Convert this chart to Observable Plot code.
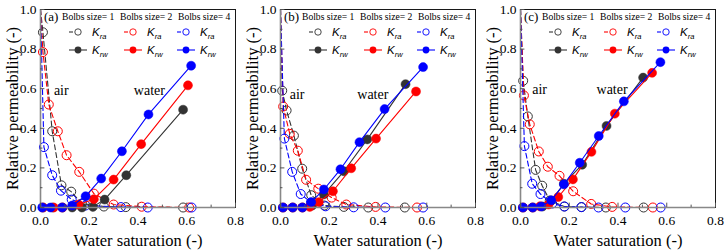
<!DOCTYPE html>
<html>
<head>
<meta charset="utf-8">
<script src="https://cdn.jsdelivr.net/npm/d3@7"></script>
<script src="https://cdn.jsdelivr.net/npm/@observablehq/plot@0.6"></script>
<style>
  html, body { margin: 0; padding: 0; background: #fff; }
  #chart { position: relative; width: 725px; height: 252px; overflow: hidden; }
</style>
</head>
<body>
<div id="chart"></div>
<script>
// ---------- data ----------
const panels = ["(a)", "(b)", "(c)"];
const sizes = ["1", "2", "4"];
const seriesColors = ["#333333", "#ff0000", "#0000ff"];
const xMajor = [0, 0.2, 0.4, 0.6, 0.8];
const xMinor = [0.1, 0.3, 0.5, 0.7];
const yMajor = [0, 0.2, 0.4, 0.6, 0.8, 1.0];
const yMinor = [0.1, 0.3, 0.5, 0.7, 0.9];
const airLabelPos = [[0.055, 0.569], [0.038, 0.549], [0.048, 0.574]];
const waterLabelPos = [[0.383, 0.569], [0.315, 0.549], [0.312, 0.574]];

// panel (a)
const a_Kra_1 = [[0,1],[0.01,0.885],[0.048,0.385],[0.086,0.112],[0.126,0.08],[0.17,0.02],[0.26,0.005],[0.35,0.002],[0.585,0]];
const a_Kra_2 = [[0,1],[0.01,0.785],[0.034,0.52],[0.071,0.385],[0.107,0.264],[0.159,0.18],[0.219,0.07],[0.30,0.015],[0.415,0.004],[0.61,0]];
const a_Kra_4 = [[0,1],[0.014,0.305],[0.048,0.163],[0.084,0.085],[0.128,0.04],[0.185,0.01],[0.33,0.002],[0.44,0],[0.62,0]];
const a_Krw_1 = [[0.01,0],[0.05,0],[0.09,0],[0.13,0],[0.17,0],[0.215,0.003],[0.263,0.04],[0.352,0.163],[0.585,0.494]];
const a_Krw_2 = [[0.01,0],[0.054,0],[0.09,0],[0.156,0.015],[0.219,0.042],[0.30,0.141],[0.413,0.32],[0.605,0.617]];
const a_Krw_4 = [[0.007,0],[0.041,0],[0.089,0],[0.13,0.01],[0.185,0.057],[0.249,0.146],[0.334,0.284],[0.443,0.47],[0.618,0.716]];

// panel (b)
const b_Kra_1 = [[0,1],[0.007,0.59],[0.025,0.49],[0.055,0.363],[0.089,0.196],[0.126,0.062],[0.18,0.01],[0.26,0.003],[0.36,0],[0.51,0]];
const b_Kra_2 = [[0,1],[0.011,0.51],[0.038,0.372],[0.071,0.287],[0.105,0.14],[0.155,0.095],[0.21,0.05],[0.27,0.015],[0.39,0.003],[0.56,0]];
const b_Kra_4 = [[0,1],[0.016,0.348],[0.048,0.18],[0.083,0.068],[0.125,0.025],[0.185,0.006],[0.3,0.001],[0.43,0],[0.585,0]];
const b_Krw_1 = [[0.01,0],[0.05,0],[0.09,0],[0.13,0.01],[0.178,0.066],[0.26,0.183],[0.356,0.344],[0.513,0.623]];
const b_Krw_2 = [[0.01,0],[0.05,0],[0.09,0],[0.12,0.003],[0.157,0.027],[0.215,0.082],[0.29,0.198],[0.392,0.348],[0.556,0.586]];
const b_Krw_4 = [[0.01,0],[0.05,0],[0.09,0],[0.126,0.027],[0.178,0.091],[0.246,0.193],[0.324,0.33],[0.427,0.497],[0.585,0.709]];

// panel (c)
const c_Kra_1 = [[0,1],[0.011,0.64],[0.03,0.46],[0.062,0.19],[0.089,0.11],[0.12,0.035],[0.18,0.005],[0.25,0.002],[0.35,0],[0.505,0]];
const c_Kra_2 = [[0,1],[0.014,0.566],[0.038,0.42],[0.075,0.283],[0.112,0.206],[0.16,0.16],[0.216,0.082],[0.29,0.018],[0.376,0.003],[0.543,0]];
const c_Kra_4 = [[0,1],[0.016,0.31],[0.048,0.12],[0.082,0.068],[0.13,0.02],[0.18,0.005],[0.25,0.002],[0.32,0],[0.43,0],[0.575,0]];
const c_Krw_1 = [[0.01,0],[0.05,0],[0.09,0.005],[0.126,0.035],[0.178,0.12],[0.253,0.216],[0.353,0.412],[0.503,0.656]];
const c_Krw_2 = [[0.01,0],[0.05,0],[0.08,0.006],[0.115,0.015],[0.155,0.053],[0.215,0.142],[0.291,0.281],[0.387,0.474],[0.54,0.68]];
const c_Krw_4 = [[0.01,0],[0.05,0],[0.085,0.005],[0.126,0.036],[0.178,0.117],[0.243,0.226],[0.321,0.361],[0.424,0.536],[0.574,0.734]];

const kraByPanel = [[a_Kra_1, a_Kra_2, a_Kra_4], [b_Kra_1, b_Kra_2, b_Kra_4], [c_Kra_1, c_Kra_2, c_Kra_4]];
const krwByPanel = [[a_Krw_1, a_Krw_2, a_Krw_4], [b_Krw_1, b_Krw_2, b_Krw_4], [c_Krw_1, c_Krw_2, c_Krw_4]];

// ---------- drawing ----------
const serif = "Liberation Serif";
const sans = "Liberation Sans";
const W = 240, H = 252, ML = 40, MR = 5, MT = 9, MB = 45;
const container = document.getElementById("chart");

panels.forEach((label, p) => {
  const marks = [];
  kraByPanel[p].forEach((s, i) => {
    marks.push(Plot.line(s, {x: d => d[0], y: d => d[1], stroke: seriesColors[i], strokeWidth: 1.1, strokeDasharray: "5,3"}));
    marks.push(Plot.dot(s.filter(d => d[1] < 1), {x: d => d[0], y: d => d[1], r: 4.5, stroke: seriesColors[i], strokeWidth: 1, fill: "none"}));
  });
  krwByPanel[p].forEach((s, i) => {
    marks.push(Plot.line(s, {x: d => d[0], y: d => d[1], stroke: seriesColors[i], strokeWidth: 1.1}));
    marks.push(Plot.dot(s, {x: d => d[0], y: d => d[1], r: 4.5, fill: seriesColors[i], stroke: seriesColors[i], strokeWidth: 0.5}));
  });
  marks.push(Plot.frame({stroke: "#000", strokeWidth: 0.9}));
  marks.push(Plot.ruleX([0], {stroke: "#888", strokeWidth: 1.6}));
  marks.push(Plot.ruleY([0], {stroke: "#888", strokeWidth: 1.6}));
  marks.push(Plot.ruleX(xMajor, {x: d => d, y1: 0, y2: 0.022, stroke: "#555"}));
  marks.push(Plot.ruleX(xMinor, {x: d => d, y1: 0, y2: 0.012, stroke: "#555"}));
  marks.push(Plot.ruleY(yMajor, {y: d => d, x1: 0, x2: 0.018, stroke: "#555"}));
  marks.push(Plot.ruleY(yMinor, {y: d => d, x1: 0, x2: 0.01, stroke: "#555"}));
  marks.push(Plot.axisX(xMajor, {tickSize: 0, tickPadding: 8, tickFormat: d3.format(".1f"), fontSize: 13.5, fontFamily: serif, label: null}));
  marks.push(Plot.axisY(yMajor, {tickSize: 0, tickPadding: 4, tickFormat: d3.format(".1f"), fontSize: 13.5, fontFamily: serif, label: null}));
  marks.push(Plot.text(["Water saturation (-)"], {frameAnchor: "bottom", dy: 38, lineAnchor: "bottom", textAnchor: "middle", fontSize: 16.5, fontFamily: serif}));
  marks.push(Plot.text(["Relative permeability (-)"], {frameAnchor: "left", dx: -28, rotate: -90, textAnchor: "middle", lineAnchor: "middle", fontSize: 16.5, fontFamily: serif}));
  marks.push(Plot.text([airLabelPos[p]], {x: d => d[0], y: d => d[1], text: () => "air", textAnchor: "start", lineAnchor: "bottom", fontSize: 14, fontFamily: serif}));
  marks.push(Plot.text([waterLabelPos[p]], {x: d => d[0], y: d => d[1], text: () => "water", textAnchor: "start", lineAnchor: "bottom", fontSize: 14, fontFamily: serif}));

  const svg = Plot.plot({
    width: W, height: H,
    marginLeft: ML, marginRight: MR, marginTop: MT, marginBottom: MB,
    x: {domain: [0, 0.8], axis: null},
    y: {domain: [0, 1], axis: null},
    style: `color: #000; background: transparent; overflow: visible; position: absolute; left: ${p * W}px; top: 0px; max-width: none;`,
    marks
  });

  // in-panel legend
  const g = d3.select(svg).append("g").attr("transform", `translate(${ML},${MT})`)
    .attr("text-anchor", "start").attr("font-family", serif);
  g.append("text").attr("x", 4).attr("y", 12).attr("font-size", 13).text(label);
  const titleX = [22, 80, 138], symX = [38, 93, 146], kX = [52, 107, 160];
  sizes.forEach((s, i) => {
    g.append("text").attr("x", titleX[i]).attr("y", 11).attr("font-size", 9.6).text("Bolbs size= " + s);
    g.append("line").attr("x1", symX[i] - 9).attr("x2", symX[i] - 5).attr("y1", 23).attr("y2", 23)
      .attr("stroke", seriesColors[i]).attr("stroke-width", 1.1);
    g.append("circle").attr("cx", symX[i]).attr("cy", 23).attr("r", 3.2)
      .attr("fill", "none").attr("stroke", seriesColors[i]).attr("stroke-width", 0.9);
    g.append("line").attr("x1", symX[i] - 9).attr("x2", symX[i] + 9).attr("y1", 41).attr("y2", 41)
      .attr("stroke", seriesColors[i]).attr("stroke-width", 1.1);
    g.append("circle").attr("cx", symX[i]).attr("cy", 41).attr("r", 3.4).attr("fill", seriesColors[i]);
    [["ra", 27], ["rw", 45]].forEach(([sub, yb]) => {
      const t = g.append("text").attr("x", kX[i]).attr("y", yb).attr("font-size", 11.5)
        .attr("font-family", sans).attr("font-style", "italic");
      t.append("tspan").text("K");
      t.append("tspan").attr("dy", 3).attr("font-size", 7.5).text(sub);
    });
  });

  container.appendChild(svg);
});
</script>
</body>
</html>
